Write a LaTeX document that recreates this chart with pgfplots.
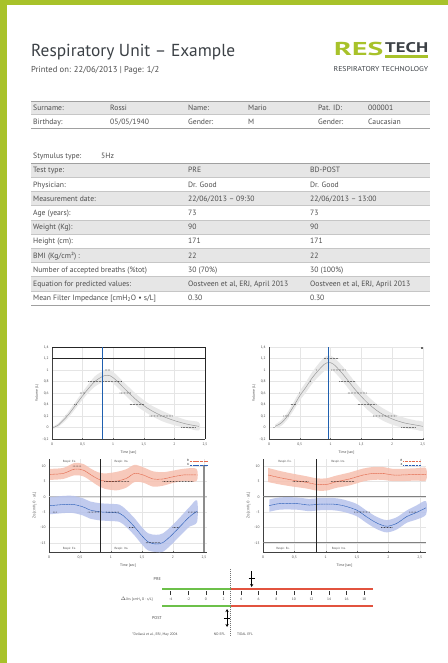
\documentclass[border=0pt]{standalone}
\usepackage{fontspec}
\setmainfont{PT Sans}
\usepackage{graphicx}
\usepackage{pgfplots}
\pgfplotsset{compat=1.18}
\usetikzlibrary{arrows.meta}
\definecolor{rtgreen}{HTML}{A8C22A}
\definecolor{titlegray}{HTML}{3C4146}
\definecolor{txtgray}{HTML}{4D4D4D}
\definecolor{rowgray}{HTML}{E6E6E6}
\definecolor{linegray}{HTML}{A0A0A0}
\definecolor{vblue}{HTML}{1F5FAF}
\definecolor{rline}{HTML}{E36A4E}
\definecolor{rband}{HTML}{F6C0B0}
\definecolor{bline}{HTML}{2B5FB8}
\definecolor{bband}{HTML}{B7C2EC}
\definecolor{scgreen}{HTML}{6CC04A}
\definecolor{scred}{HTML}{E2533F}
\newcommand\tfont{\fontsize{7.7}{8.5}\selectfont}
\newcommand\tinyf{\fontsize{3.6}{4.2}\selectfont}
\newcommand\trow[4]{%
  \node[tt] at (33,#1+9.9) {#2};
  \node[tt] at (188,#1+9.9) {#3};
  \node[tt] at (310,#1+9.9) {#4};}
% one dotted segment of a series: from x=#1 to x=#2 at level y=#3
\newcommand\dseg[3]{\addplot[dotseg] coordinates {(#1,#3)(#2,#3)};}
\pgfplotsset{
  base/.style={scale only axis, anchor=south west, clip=false,
    /pgf/number format/assume math mode=true,
    /pgf/number format/use comma,
    tick label style={font=\tinyf, text=black!70},
    label style={font=\tinyf, text=black!75},
    grid=major, grid style={black!10, line width=0.3pt},
    axis x line*=bottom, axis y line*=left,
    axis line style={-, black!75, line width=0.5pt},
    tick style={black!60, line width=0.3pt}, major tick length=1.2pt,
    xtick={0,0.5,1,1.5,2,2.5},
    xlabel={Time [sec]},
    xlabel style={yshift=2pt}, ylabel style={yshift=-3pt}},
  topplot/.style={base, ymin=-0.2, ymax=1.4,
    ytick={-0.2,0,0.2,0.4,0.6,0.8,1,1.2,1.4}, ylabel={Volume (L)}},
  botplot/.style={base, ymin=-18, ymax=12.3,
    ytick={-15,-10,-5,0,5,10},
    ylabel={Zrs [cmH\textsubscript{2}O · s/L]},
    legend style={at={(axis cs:2.56,12.4)}, anchor=north east, draw=none,
      fill=none, font=\fontsize{3}{3.5}\selectfont, inner sep=0.3pt,
      row sep=-1.5pt, nodes={inner sep=0.6pt}},
    legend plot pos=right},
  dotseg/.style={black, line width=0.75pt, line cap=round,
    dash pattern=on 0pt off 1.5pt, forget plot},
  meanline/.style={smooth, line width=0.5pt, dash pattern=on 1pt off 0.4pt}
}
\begin{document}
\begin{tikzpicture}
\fill[white] (0,0) rectangle (448bp,-663bp);
\path[use as bounding box] (0,0) rectangle (448bp,-663bp);
\begin{scope}[x=1bp,y=-1bp, tt/.style={anchor=base west, inner sep=0, font=\tfont, text=txtgray}]
% page border
\fill[rtgreen] (0,0) rectangle (7,663);
\fill[rtgreen] (0,0) rectangle (448,5.5);
% header
\node[anchor=base west, inner sep=0, text=titlegray] at (31,56)
  {\resizebox{204bp}{!}{\fontsize{16}{19}\selectfont Respiratory Unit – Example}};
\node[anchor=base west, inner sep=0, text=txtgray] at (31,72.5)
  {\resizebox{128bp}{!}{\fontsize{8}{9}\selectfont Printed on: 22/06/2013 | Page: 1/2}};
\node[anchor=base west, inner sep=0, text=rtgreen] at (334,56)
  {\resizebox{49bp}{13.3bp}{\bfseries RES}};
\node[anchor=base west, inner sep=0, text=titlegray] at (385,52.8)
  {\resizebox{43bp}{10bp}{\bfseries TECH}};
\fill[rtgreen] (385,55) rectangle (428,58.2);
\node[anchor=base west, inner sep=0, text=titlegray] at (333.5,71.7)
  {\resizebox{94.5bp}{5bp}{\fontsize{6}{7}\selectfont RESPIRATORY TECHNOLOGY}};
% table 1
\fill[rowgray] (31,101) rectangle (430,114.5);
\draw[linegray, line width=0.6pt] (31,101) -- (430,101);
\draw[linegray!60, line width=0.4pt] (31,114.5) -- (430,114.5);
\draw[linegray, line width=0.6pt] (31,128) -- (430,128);
\node[tt] at (33,110.8) {Surname:};
\node[tt] at (110,110.8) {Rossi};
\node[tt] at (188,110.8) {Name:};
\node[tt] at (248,110.8) {Mario};
\node[tt] at (318,110.8) {Pat. ID:};
\node[tt] at (368,110.8) {000001};
\node[tt] at (33,124.3) {Birthday:};
\node[tt] at (110,124.3) {05/05/1940};
\node[tt] at (188,124.3) {Gender:};
\node[tt] at (248,124.3) {M};
\node[tt] at (318,124.3) {Gender:};
\node[tt] at (368,124.3) {Caucasian};
% stimulus
\node[tt] at (33,158.8) {Stymulus type:};
\node[tt] at (101,158.8) {5Hz};
% table 2
\fill[rowgray] (31,163.0) rectangle (430,177.2);
\fill[rowgray] (31,191.4) rectangle (430,205.6);
\fill[rowgray] (31,219.8) rectangle (430,234.0);
\fill[rowgray] (31,248.2) rectangle (430,262.4);
\fill[rowgray] (31,276.6) rectangle (430,290.8);
\foreach \yy in {177.2,191.4,205.6,219.8,234.0,248.2,262.4,276.6,290.8}
  \draw[linegray!60, line width=0.4pt] (31,\yy) -- (430,\yy);
\draw[linegray, line width=0.6pt] (31,163) -- (430,163);
\draw[linegray, line width=0.6pt] (31,305) -- (430,305);
\trow{163.0}{Test type:}{PRE}{BD-POST}
\trow{177.2}{Physician:}{Dr. Good}{Dr. Good}
\trow{191.4}{Measurement date:}{22/06/2013 – 09:30}{22/06/2013 – 13:00}
\trow{205.6}{Age (years):}{73}{73}
\trow{219.8}{Weight (Kg):}{90}{90}
\trow{234.0}{Height (cm):}{171}{171}
\trow{248.2}{BMI (Kg/cm²) :}{22}{22}
\trow{262.4}{Number of accepted breaths (\%tot)}{30 (70\%)}{30 (100\%)}
\trow{276.6}{Equation for predicted values:}{Oostveen et al, ERJ, April 2013}{Oostveen et al, ERJ, April 2013}
\trow{290.8}{Mean Filter Impedance [cmH\textsubscript{2}O • s/L]}{0.30}{0.30}
% bottom scale texts
\node[anchor=base east, inner sep=0, font=\fontsize{4.2}{5}\selectfont, text=txtgray] at (161,580.5) {PRE};
\node[anchor=base east, inner sep=0, font=\fontsize{4.2}{5}\selectfont, text=txtgray] at (162,619.5) {POST};
\node[anchor=base east, inner sep=0, font=\tinyf, text=txtgray] at (153,600.5) {$\Delta$Xrs [cmH\textsubscript{2}O · s/L]};
\node[anchor=base, inner sep=0, font=\tinyf, text=txtgray] at (155,635.5) {*Dellacà et al., ERJ, May 2004};
\node[anchor=base, inner sep=0, font=\tinyf, text=txtgray] at (219.5,635.5) {NO EFL};
\node[anchor=base, inner sep=0, font=\tinyf, text=txtgray] at (245,635.5) {TIDAL EFL};
\end{scope}

% ---------- plot 1 ----------
\begin{axis}[topplot, at={(52bp,-439bp)}, width=153bp, height=92bp, xmin=0, xmax=2.5]
\addplot[fill=black!9, draw=none, smooth, forget plot] coordinates {
(0.02,0.02)(0.1,0.07)(0.25,0.25)(0.4,0.47)(0.55,0.69)(0.7,0.89)(0.85,0.99)(0.95,1.0)(1.05,0.92)(1.2,0.76)(1.4,0.56)(1.6,0.4)(1.8,0.29)(2.0,0.2)(2.2,0.13)(2.4,0.09)
(2.4,-0.05)(2.2,-0.01)(2.0,0.04)(1.8,0.11)(1.6,0.22)(1.4,0.36)(1.2,0.56)(1.05,0.72)(0.95,0.8)(0.85,0.8)(0.7,0.71)(0.55,0.55)(0.4,0.35)(0.25,0.15)(0.1,0.01)(0.02,-0.02)};
\addplot[black!40, line width=0.5pt, smooth] coordinates {
(0.02,0)(0.1,0.04)(0.25,0.2)(0.4,0.41)(0.55,0.62)(0.7,0.8)(0.85,0.9)(0.95,0.9)(1.05,0.82)(1.2,0.66)(1.4,0.46)(1.6,0.31)(1.8,0.2)(2.0,0.12)(2.2,0.06)(2.4,0.02)};
\dseg{0.23}{0.235}{0.2}
\dseg{0.37}{0.41}{0.4}
\dseg{0.46}{0.54}{0.6}
\dseg{0.6}{1.14}{0.8}
\dseg{0.87}{0.95}{1.0}
\dseg{1.11}{1.3}{0.6}
\dseg{1.28}{1.52}{0.4}
\dseg{1.6}{1.98}{0.2}
\dseg{2.12}{2.36}{0}
\addplot[black!85, line width=0.9pt] coordinates {(0,1.2)(2.5,1.2)};
\addplot[black!85, line width=0.9pt] coordinates {(0,1.4)(2.5,1.4)(2.5,-0.2)};
\addplot[vblue, line width=0.9pt] coordinates {(0.82,-0.2)(0.82,1.4)};
\end{axis}

% ---------- plot 2 ----------
\begin{axis}[topplot, at={(269bp,-439bp)}, width=155bp, height=92bp, xmin=0, xmax=2.52]
\addplot[fill=black!9, draw=none, smooth, forget plot] coordinates {
(0.1,0.05)(0.2,0.13)(0.3,0.26)(0.4,0.44)(0.5,0.63)(0.6,0.79)(0.7,0.96)(0.8,1.1)(0.9,1.22)(0.97,1.25)(1.05,1.22)(1.2,1.06)(1.4,0.79)(1.6,0.55)(1.8,0.37)(2.0,0.25)(2.2,0.17)(2.4,0.12)(2.5,0.1)
(2.5,-0.06)(2.4,-0.04)(2.2,-0.01)(2.0,0.05)(1.8,0.15)(1.6,0.31)(1.4,0.53)(1.2,0.8)(1.05,0.98)(0.97,1.01)(0.9,0.98)(0.8,0.88)(0.7,0.76)(0.6,0.61)(0.5,0.47)(0.4,0.3)(0.3,0.14)(0.2,0.03)(0.1,-0.01)};
\addplot[black!40, line width=0.5pt, smooth] coordinates {
(0.1,0.02)(0.2,0.08)(0.3,0.2)(0.4,0.37)(0.5,0.55)(0.6,0.7)(0.7,0.86)(0.8,0.99)(0.9,1.1)(0.97,1.13)(1.05,1.1)(1.2,0.93)(1.4,0.66)(1.6,0.43)(1.8,0.26)(2.0,0.15)(2.2,0.08)(2.4,0.04)(2.5,0.02)};
\dseg{0.08}{0.1}{0}
\dseg{0.24}{0.33}{0.2}
\dseg{0.36}{0.45}{0.4}
\dseg{0.5}{0.505}{0.6}
\dseg{0.68}{0.685}{0.8}
\dseg{0.77}{0.775}{1.0}
\dseg{0.9}{1.12}{1.2}
\dseg{1.02}{1.26}{1.0}
\dseg{1.15}{1.4}{0.8}
\dseg{1.29}{1.59}{0.6}
\dseg{1.45}{1.75}{0.4}
\dseg{1.7}{2.08}{0.2}
\dseg{2.16}{2.4}{0}
\addplot[only marks, mark=square*, mark size=0.7pt, black!60] coordinates {(2.48,1.39)};
\addplot[vblue, line width=0.9pt] coordinates {(0.96,-0.2)(0.96,1.4)};
\end{axis}

% ---------- plot 3 ----------
\begin{axis}[botplot, at={(49bp,-552bp)}, width=158bp, height=93bp, xmin=0, xmax=2.55]
\addplot[black!25, line width=0.8pt, forget plot] coordinates {(0,0)(2.55,0)};
\addplot[fill=rband, fill opacity=0.85, draw=none, smooth, forget plot] coordinates {
(0.02,9.1)(0.23,9.4)(0.41,11.0)(0.55,10.7)(0.68,9.1)(0.79,8.0)(0.9,7.6)(1.09,8.1)(1.25,9.0)(1.38,10.4)(1.52,9.6)(1.68,8.3)(1.84,8.0)(2.0,8.5)(2.17,9.1)(2.38,9.1)
(2.38,5.1)(2.17,5.1)(2.0,4.5)(1.84,3.6)(1.68,3.3)(1.52,4.6)(1.38,4.8)(1.25,3.0)(1.09,2.1)(0.9,2.6)(0.79,3.6)(0.68,5.1)(0.55,6.7)(0.41,7.0)(0.23,5.8)(0.02,5.5)};
\addplot[fill=bband, fill opacity=0.85, draw=none, smooth, forget plot] coordinates {
(0.02,-0.1)(0.25,0.3)(0.39,0.3)(0.55,-0.5)(0.66,-1.5)(0.82,-2.1)(0.98,-2.3)(1.14,-2.6)(1.25,-4.3)(1.38,-7.0)(1.49,-9.7)(1.6,-11.9)(1.73,-12.4)(1.84,-11.9)(1.98,-9.5)(2.11,-6.8)(2.27,-3.3)(2.39,-1.2)
(2.39,-8.2)(2.27,-9.7)(2.11,-12.8)(1.98,-15.5)(1.84,-17.9)(1.73,-18.0)(1.6,-17.5)(1.49,-15.3)(1.38,-12.6)(1.25,-9.9)(1.14,-8.2)(0.98,-7.9)(0.82,-7.7)(0.66,-7.1)(0.55,-6.1)(0.39,-5.3)(0.25,-5.3)(0.02,-5.7)};
\addplot[rline, meanline] coordinates {
(0.02,7.3)(0.23,7.6)(0.41,9.0)(0.55,8.7)(0.68,7.1)(0.79,5.8)(0.9,5.1)(1.09,5.1)(1.25,6.0)(1.38,7.6)(1.52,7.1)(1.68,5.8)(1.84,5.8)(2.0,6.5)(2.17,7.1)(2.38,7.1)};
\addlegendentry{R}
\addplot[bline, meanline] coordinates {
(0.02,-2.9)(0.25,-2.5)(0.39,-2.5)(0.55,-3.3)(0.66,-4.3)(0.82,-4.9)(0.98,-5.1)(1.14,-5.4)(1.25,-7.1)(1.38,-9.8)(1.49,-12.5)(1.6,-14.7)(1.73,-15.4)(1.84,-14.9)(1.98,-12.5)(2.11,-9.8)(2.27,-6.5)(2.39,-4.7)};
\addlegendentry{X}
\dseg{0.39}{0.52}{10}
\dseg{0.9}{1.3}{5}
\dseg{1.84}{2.33}{5}
\dseg{0.07}{0.12}{-5}
\dseg{0.63}{0.82}{-5}
\dseg{0.93}{1.14}{-5}
\dseg{1.3}{1.38}{-10}
\dseg{1.57}{1.79}{-15}
\dseg{2.0}{2.11}{-10}
\dseg{2.25}{2.41}{-5}
\addplot[black!85, line width=0.9pt, forget plot] coordinates {(0.835,-18)(0.835,12.3)};
\addplot[black!45, line width=1.4pt, forget plot] coordinates {(2.5,-18)(2.5,10.5)};
\node[font=\fontsize{3}{3.5}\selectfont, text=black!70] at (axis cs:0.33,11.4) {Respir. Ex.};
\node[font=\fontsize{3}{3.5}\selectfont, text=black!70] at (axis cs:1.17,11.4) {Respir. Ins.};
\node[font=\fontsize{3}{3.5}\selectfont, text=black!70] at (axis cs:0.33,-16.8) {Respir. Ex.};
\node[font=\fontsize{3}{3.5}\selectfont, text=black!70] at (axis cs:1.17,-16.8) {Respir. Ins.};
\end{axis}

% ---------- plot 4 ----------
\begin{axis}[botplot, at={(263bp,-552bp)}, width=163bp, height=93bp, xmin=0, xmax=2.6,
  legend style={at={(axis cs:2.52,12.4)}}]
\addplot[black!50, line width=1.1pt, forget plot] coordinates {(0,0)(2.6,0)};
\addplot[black!50, line width=1.1pt, forget plot] coordinates {(0,-15)(2.6,-15)};
\addplot[fill=rband, fill opacity=0.85, draw=none, smooth, forget plot] coordinates {
(0.08,9.4)(0.27,8.4)(0.48,7.5)(0.69,6.7)(0.86,6.0)(1.01,6.0)(1.17,6.9)(1.38,7.9)(1.6,9.2)(1.76,9.7)(1.91,9.7)(2.07,9.1)(2.23,9.1)(2.45,9.3)(2.6,9.3)
(2.6,5.3)(2.45,5.3)(2.23,5.1)(2.07,5.1)(1.91,5.5)(1.76,5.5)(1.6,5.0)(1.38,3.7)(1.17,2.9)(1.01,2.0)(0.86,2.0)(0.69,2.7)(0.48,3.3)(0.27,4.0)(0.08,4.8)};
\addplot[fill=bband, fill opacity=0.85, draw=none, smooth, forget plot] coordinates {
(0.1,-0.9)(0.27,-0.2)(0.53,-0.2)(0.74,-0.7)(0.9,-0.4)(1.12,-0.4)(1.28,-0.9)(1.49,-2.3)(1.65,-4.5)(1.81,-6.5)(1.97,-7.6)(2.13,-6.7)(2.29,-4.5)(2.45,-2.8)(2.6,-1.4)
(2.6,-5.8)(2.45,-7.4)(2.29,-8.5)(2.13,-10.7)(1.97,-11.6)(1.81,-10.5)(1.65,-8.5)(1.49,-6.3)(1.28,-4.9)(1.12,-4.4)(0.9,-4.4)(0.74,-4.7)(0.53,-4.2)(0.27,-4.2)(0.1,-4.9)};
\addplot[rline, meanline] coordinates {
(0.08,7.1)(0.27,6.2)(0.48,5.4)(0.69,4.7)(0.86,4.0)(1.01,4.0)(1.17,4.9)(1.38,5.8)(1.6,7.1)(1.76,7.6)(1.91,7.6)(2.07,7.1)(2.23,7.1)(2.45,7.3)(2.6,7.3)};
\addlegendentry{R}
\addplot[bline, meanline] coordinates {
(0.1,-2.9)(0.27,-2.2)(0.53,-2.2)(0.74,-2.7)(0.9,-2.4)(1.12,-2.4)(1.28,-2.9)(1.49,-4.3)(1.65,-6.5)(1.81,-8.5)(1.97,-9.6)(2.13,-8.7)(2.29,-6.5)(2.45,-5.1)(2.6,-3.6)};
\addlegendentry{X}
\dseg{0.48}{0.72}{5}
\dseg{1.09}{1.46}{5}
\dseg{1.46}{1.7}{-5}
\dseg{1.89}{2.07}{-10}
\dseg{2.34}{2.45}{-5}
\addplot[black!85, line width=0.9pt, forget plot] coordinates {(0.86,-18)(0.86,12.3)};
\node[font=\fontsize{3}{3.5}\selectfont, text=black!70] at (axis cs:0.35,11.4) {Respir. Ex.};
\node[font=\fontsize{3}{3.5}\selectfont, text=black!70] at (axis cs:1.2,11.4) {Respir. Ins.};
\node[font=\fontsize{3}{3.5}\selectfont, text=black!70] at (axis cs:0.32,-17) {Respir. Ex.};
\node[font=\fontsize{3}{3.5}\selectfont, text=black!70] at (axis cs:1.21,-17) {Respir. Ins.};
\end{axis}

% ---------- EFL scale ----------
\begin{axis}[at={(162bp,-640bp)}, anchor=south west, scale only axis, width=211bp, height=75bp,
  xmin=-5, xmax=19, ymin=-640, ymax=-565, hide axis, clip=false]
\addplot[scgreen, line width=1.2pt] coordinates {(-5,-606)(2.8,-606)};
\addplot[scred, line width=1.2pt] coordinates {(2.8,-606)(19,-606)};
\addplot[scgreen, line width=1.2pt] coordinates {(-5,-589)(2.8,-589)};
\addplot[scred, line width=1.2pt] coordinates {(2.8,-589)(19,-589)};
\pgfplotsinvokeforeach{-4,-2,0,2,4,6,8,10,12,14,16,18}{
  \addplot[black!80, line width=0.6pt] coordinates {(#1,-591.2)(#1,-595)};
  \node[font=\tinyf, text=txtgray] at (axis cs:#1,-599.5) {#1};
}
\addplot[black!55, line width=1.3pt, dash pattern=on 1.2pt off 0.8pt] coordinates {(2.8,-569)(2.8,-636)};
\addplot[black, line width=0.8pt, -{Stealth[length=3bp,width=3.2bp]}] coordinates {(5.2,-571)(5.2,-587)};
\addplot[black, line width=0.8pt] coordinates {(4.85,-578)(5.55,-578)};
\addplot[black, line width=0.8pt, {Stealth[length=3bp,width=3.2bp]}-{Stealth[length=3bp,width=3.2bp]}] coordinates {(2.4,-609)(2.4,-627)};
\addplot[black, line width=0.8pt] coordinates {(2.05,-618)(2.75,-618)};
\end{axis}
\end{tikzpicture}
\end{document}
